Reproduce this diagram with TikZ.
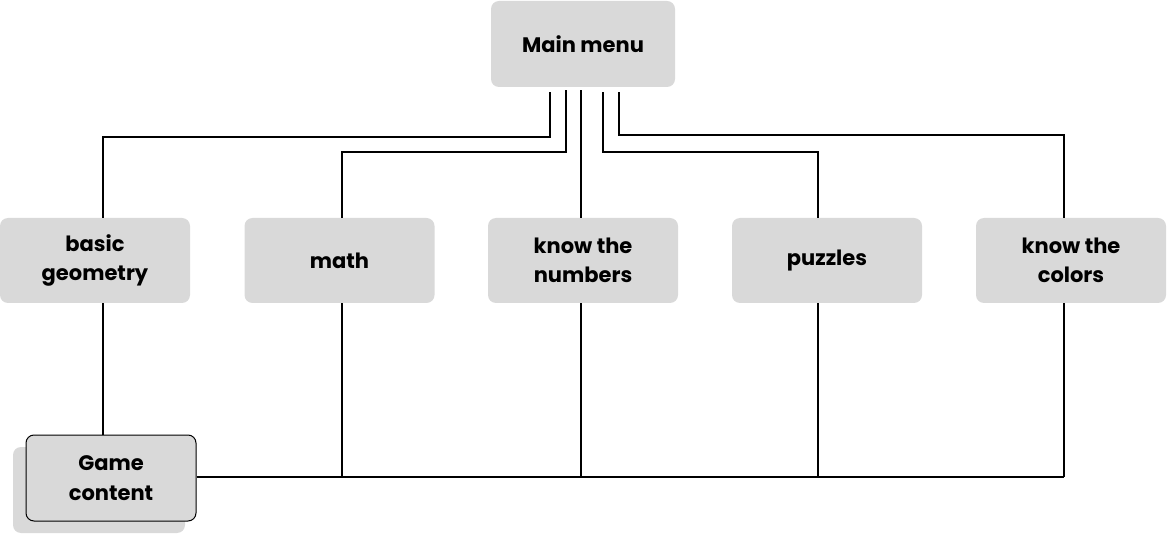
\documentclass[tikz,border=0pt]{standalone}
\usepackage{fontspec}
\setmainfont{Poppins}[UprightFont=* Bold]
\definecolor{boxgray}{HTML}{D9D9D9}
\tikzset{
  menubox/.style={fill=boxgray, rounded corners=8pt, minimum width=190pt, minimum height=85pt, align=center, font=\fontsize{21}{29.5}\selectfont, inner sep=0pt},
  conn/.style={draw=black, line width=1.5pt}
}
\begin{document}
\begin{tikzpicture}[x=1pt,y=-1pt]
\useasboundingbox (0,0) rectangle (1167,534);
\node[menubox, minimum width=184pt, minimum height=86pt] (mm) at (583,44) {Main menu};
\node[menubox] (bg) at (95,260.5) {basic\\geometry};
\node[menubox] (ma) at (339.5,260.5) {math};
\node[menubox] (nu) at (583,260.5) {know the\\numbers};
\node[menubox] (pu) at (827,260.5) {puzzles};
\node[menubox] (co) at (1071,260.5) {know the\\colors};
\node[fill=boxgray, rounded corners=8pt, minimum width=172pt, minimum height=86pt] (gs) at (99,490) {};
\node[menubox, draw=black, line width=1pt, minimum width=170pt, minimum height=86pt] (gc) at (111,478) {Game\\content};
% top connectors
\draw[conn] ([xshift=-33pt,yshift=-5pt]mm.south) |- (320,137) -| ([xshift=8pt]bg.north);
\draw[conn] ([xshift=-17pt,yshift=-3pt]mm.south) |- (450,152) -| ([xshift=2.5pt]ma.north);
\draw[conn] ([xshift=-2pt,yshift=-3pt]mm.south) -- ([xshift=-2pt]nu.north);
\draw[conn] ([xshift=20pt,yshift=-5pt]mm.south) |- (700,152) -| ([xshift=-9pt]pu.north);
\draw[conn] ([xshift=36pt,yshift=-5pt]mm.south) |- (900,135) -| ([xshift=-7pt]co.north);
% bottom connectors
\draw[conn] ([xshift=8pt]bg.south) -- ([xshift=-8pt]gc.north);
\draw[conn] ([yshift=1pt]gc.east) -- (1064,477);
\draw[conn] ([xshift=2.5pt]ma.south) -- (342,477);
\draw[conn] ([xshift=-2pt]nu.south) -- (581,477);
\draw[conn] ([xshift=-9pt]pu.south) -- (818,477);
\draw[conn] ([xshift=-7pt]co.south) -- (1064,477);
\end{tikzpicture}
\end{document}
